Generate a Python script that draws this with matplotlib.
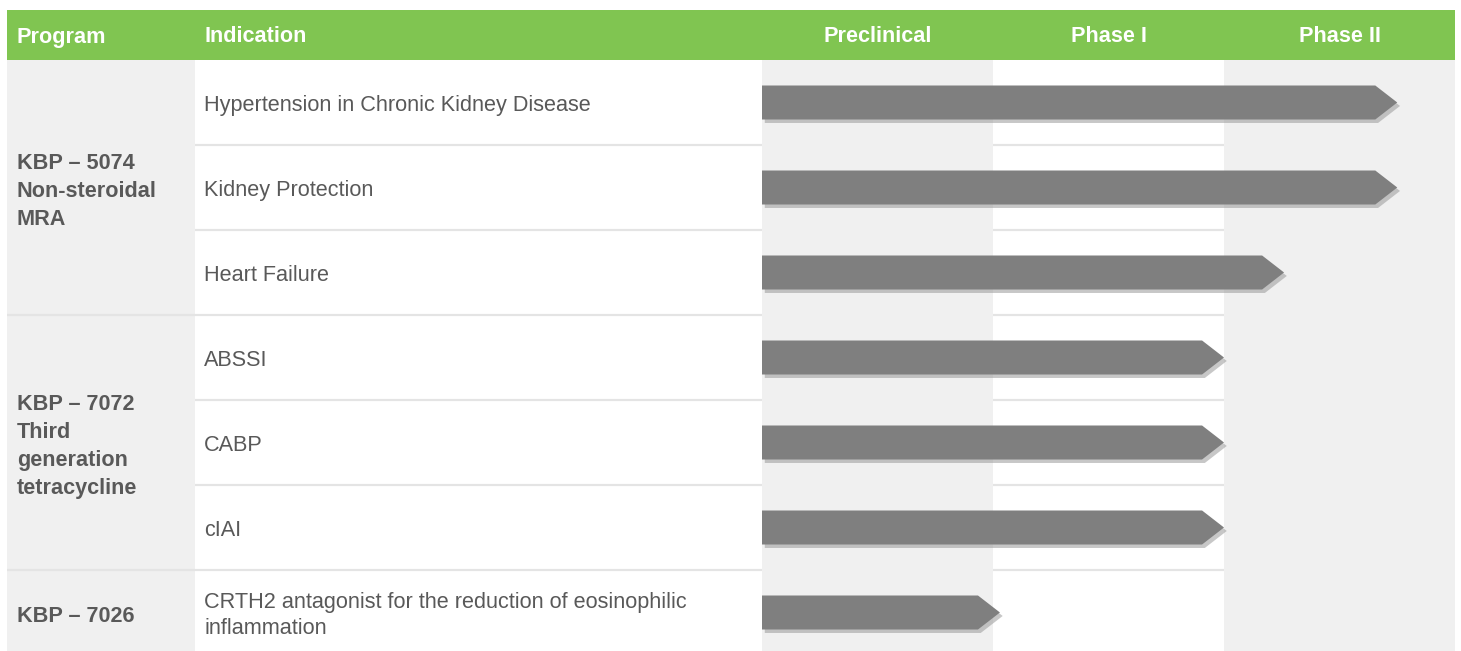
import matplotlib
matplotlib.use("Agg")
import matplotlib.pyplot as plt
from matplotlib.patches import Polygon, Rectangle
import matplotlib.patheffects as pe

# ---------------- data ----------------
phases = ["Preclinical", "Phase I", "Phase II"]
programs = ["KBP – 5074\nNon-steroidal\nMRA",
            "KBP – 7072\nThird\ngeneration\ntetracycline",
            "KBP – 7026"]
program_rows = [3, 3, 1]
indications = ["Hypertension in Chronic Kidney Disease",
               "Kidney Protection",
               "Heart Failure",
               "ABSSI",
               "CABP",
               "cIAI",
               "CRTH2 antagonist for the reduction of eosinophilic\ninflammation"]
progress = [2.75, 2.75, 2.26, 2.0, 2.0, 2.0, 1.03]   # in phase units (tip of arrow)

# ---------------- style ----------------
W, H = 1461, 651
GREEN = "#80C551"
LIGHT = "#F0F0F0"
LINE = "#E4E4E4"
TEXT = "#595959"
BAR = "#7F7F7F"
FONT = ["Liberation Sans", "DejaVu Sans"]
FS = 15.6

left, col_ind, col_ph, right = 7, 195, 762, 1455
head_top, head_bot = 10, 60
head_base_y = 42.5
row_h = 85

fig = plt.figure(figsize=(W / 100, H / 100), dpi=100)
fig.patch.set_facecolor("white")

# table axes in pixel coordinates
ax = fig.add_axes([0, 0, 1, 1])
ax.set_xlim(0, W)
ax.set_ylim(H, 0)
ax.axis("off")

# header band
ax.add_patch(Rectangle((left, head_top), right - left, head_bot - head_top,
                       facecolor=GREEN, edgecolor="none", zorder=1))
# program column background
ax.add_patch(Rectangle((left, head_bot), col_ind - left, H - head_bot,
                       facecolor=LIGHT, edgecolor="none", zorder=0))

ax.text(17, head_base_y, "Program", color="white", fontsize=FS, fontweight="bold",
        family=FONT, va="baseline", ha="left", zorder=3)
ax.text(204, head_base_y, "Indication", color="white", fontsize=FS, fontweight="bold",
        family=FONT, va="baseline", ha="left", zorder=3)

# phase axes
ph_h = H - head_bot
axp = fig.add_axes([col_ph / W, 0, (right - col_ph) / W, ph_h / H])
axp.set_xlim(0, len(phases))
axp.set_ylim(ph_h / row_h, 0)
axp.axis("off")
axp.patch.set_alpha(0)

for i, ph in enumerate(phases):
    if i % 2 == 0:
        axp.axvspan(i, i + 1, color=LIGHT, zorder=0, lw=0)
    axp.text(i + 0.5, -(head_bot - head_base_y) / row_h, ph, color="white",
             fontsize=FS, fontweight="bold", family=FONT,
             ha="center", va="baseline", clip_on=False, zorder=4)

# row separators and indication text
group_starts = []
s = 0
for n in program_rows:
    group_starts.append(s)
    s += n

for r, txt in enumerate(indications):
    y0 = head_bot + r * row_h
    yc = y0 + row_h / 2 + 3
    ax.text(204, yc, txt, color=TEXT, fontsize=FS, family=FONT,
            va="center", ha="left", linespacing=1.36, zorder=3)
    if r > 0:
        x0 = left if r in group_starts else col_ind
        ax.plot([x0, right], [y0, y0], color=LINE, lw=1.6, zorder=2,
                solid_capstyle="butt")

for g, (name, n) in enumerate(zip(programs, program_rows)):
    y0 = head_bot + group_starts[g] * row_h
    yc = y0 + n * row_h / 2 + 4
    ax.text(17, yc, name, color=TEXT, fontsize=FS, fontweight="bold",
            family=FONT, va="center", ha="left", linespacing=1.42, zorder=3)

# arrows
bh = 0.40
tip = 0.095
shadow = [pe.SimplePatchShadow(offset=(2, -2.5), shadow_rgbFace="#9a9a9a", alpha=0.55),
          pe.Normal()]
for r, v in enumerate(progress):
    yc = r + 0.5
    pts = [(0, yc - bh / 2), (v - tip, yc - bh / 2), (v, yc),
           (v - tip, yc + bh / 2), (0, yc + bh / 2)]
    poly = Polygon(pts, closed=True, facecolor=BAR, edgecolor="none", zorder=5)
    poly.set_path_effects(shadow)
    axp.add_patch(poly)

fig.savefig("out.png", dpi=100, facecolor="white")
